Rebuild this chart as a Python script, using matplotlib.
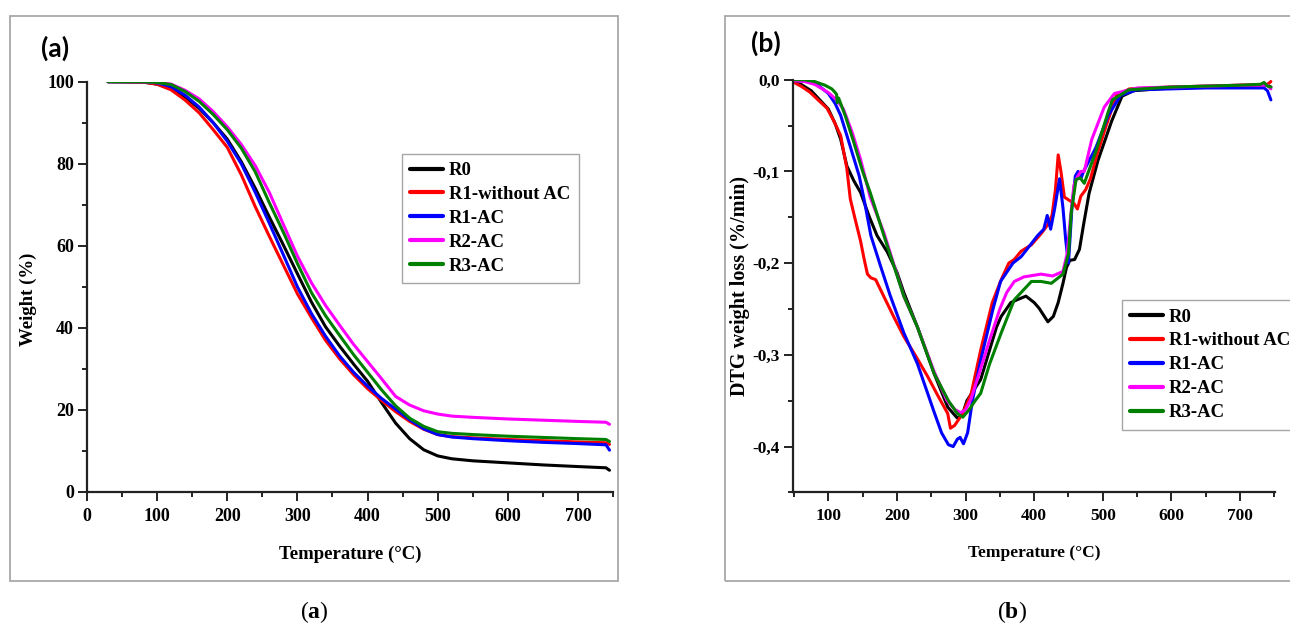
import matplotlib
matplotlib.use("Agg")
import matplotlib.pyplot as plt
from matplotlib.patches import Rectangle
from matplotlib.ticker import MultipleLocator, FuncFormatter

plt.rcParams['font.family'] = 'Liberation Serif'
plt.rcParams['font.weight'] = 'bold'
plt.rcParams['axes.labelweight'] = 'bold'
plt.rcParams['axes.unicode_minus'] = False
plt.rcParams['mathtext.fontset'] = 'custom'
plt.rcParams['mathtext.rm'] = 'Liberation Serif'
plt.rcParams['mathtext.bf'] = 'Liberation Serif:bold'

labels = ['R0', 'R1-without AC', 'R1-AC', 'R2-AC', 'R3-AC']
colors = ['black', '#ff0000', '#0000ff', '#ff00ff', '#008000']

# ---- (a) TGA: weight (%) vs temperature
tga_T = [30, 80, 100, 120, 140, 160, 180, 200, 220, 240, 260, 280, 300, 320, 340, 360,
         380, 400, 420, 440, 460, 480, 500, 520, 550, 600, 650, 700, 740, 745]
tga_R0 = [100, 99.9, 99.4, 98.2, 96.2, 93.5, 90, 86, 80.5, 74, 67, 60.2, 53.2, 46.3, 40.3, 35.6,
          31.2, 27, 21.8, 16.8, 13, 10.3, 8.8, 8.1, 7.6, 7.1, 6.6, 6.2, 5.9, 5.3]
tga_R1 = [100, 99.9, 99.4, 98, 95.5, 92.4, 88.3, 84, 77.3, 69.5, 62.3, 55.3, 48.3, 42.5, 37, 32.5,
          28.6, 25.2, 22.3, 19.6, 17.2, 15.3, 14, 13.5, 13.2, 12.8, 12.5, 12.2, 12, 11.6]
tga_R1AC = [100, 100, 99.7, 98.8, 96.7, 93.8, 90, 85.5, 80, 73, 65.5, 57.8, 50, 43.5, 38, 33.2,
            29.2, 25.8, 22.8, 20.2, 17.6, 15.4, 14, 13.4, 13, 12.5, 12.1, 11.8, 11.5, 10.2]
tga_R2AC = [100, 100, 99.8, 99.4, 97.9, 95.8, 92.7, 89, 84.7, 79.5, 73, 65.2, 57.5, 51, 45.5, 40.7,
            36, 31.8, 27.6, 23.3, 21.2, 19.8, 19, 18.5, 18.2, 17.8, 17.5, 17.2, 17, 16.5]
tga_R3AC = [100, 100, 99.8, 99.3, 97.6, 95.2, 92, 88.3, 83.8, 78, 70.5, 63.3, 55.7, 48.6, 43, 38.2,
            33.5, 29.2, 24.9, 21, 18, 16, 14.7, 14.3, 14, 13.6, 13.3, 13, 12.8, 12.3]

# ---- (b) DTG: weight loss rate (%/min) vs temperature
dtg_R0_T = [50, 60, 75, 90, 100, 110, 118, 127, 137, 147, 160, 171, 186, 200, 210, 230, 254, 274,
            288, 295, 302, 322, 345, 352, 366, 375, 388, 400, 407, 420, 428, 435, 442, 447, 452,
            459, 466, 472, 480, 493, 513, 528, 545, 600, 650, 700, 740, 745]
dtg_R0 = [-0.002, -0.005, -0.012, -0.024, -0.032, -0.048, -0.065, -0.094, -0.11, -0.123, -0.15,
          -0.17, -0.188, -0.21, -0.232, -0.27, -0.32, -0.357, -0.369, -0.366, -0.35, -0.327, -0.27,
          -0.258, -0.243, -0.24, -0.236, -0.243, -0.249, -0.264, -0.258, -0.243, -0.222, -0.205,
          -0.197, -0.196, -0.185, -0.158, -0.124, -0.088, -0.045, -0.018, -0.012, -0.009, -0.008,
          -0.007, -0.006, -0.008]

dtg_R1_T = [50, 60, 73, 85, 98, 108, 118, 127, 132, 140, 147, 152, 157, 162, 169, 180, 195, 210,
            228, 245, 260, 274, 278, 284, 295, 308, 322, 339, 352, 363, 371, 381, 396, 410, 420,
            426, 431, 435, 439, 444, 452, 458, 463, 468, 475, 482, 491, 505, 520, 539, 600, 650,
            700, 740, 745]
dtg_R1 = [-0.003, -0.007, -0.0135, -0.022, -0.031, -0.045, -0.061, -0.097, -0.13, -0.155, -0.176,
          -0.195, -0.212, -0.216, -0.218, -0.235, -0.258, -0.28, -0.302, -0.324, -0.345, -0.364,
          -0.38, -0.377, -0.365, -0.343, -0.295, -0.243, -0.218, -0.2, -0.196, -0.187, -0.18,
          -0.168, -0.158, -0.148, -0.12, -0.082, -0.1, -0.128, -0.132, -0.135, -0.141, -0.127,
          -0.12, -0.108, -0.083, -0.05, -0.017, -0.01, -0.008, -0.007, -0.006, -0.005, -0.002]

dtg_R1AC_T = [50, 70, 85, 100, 110, 118, 130, 145, 152, 162, 176, 190, 210, 230, 254, 265, 275,
              282, 288, 292, 297, 303, 310, 322, 340, 351, 369, 381, 405, 414, 419, 424, 430, 437,
              442, 446, 450, 455, 460, 464, 468, 472, 490, 508, 526, 550, 600, 650, 700, 735, 740,
              745]
dtg_R1AC = [-0.001, -0.002, -0.006, -0.015, -0.026, -0.039, -0.068, -0.105, -0.13, -0.17, -0.203,
            -0.235, -0.276, -0.31, -0.362, -0.385, -0.398, -0.4, -0.392, -0.39, -0.397, -0.385,
            -0.35, -0.306, -0.25, -0.22, -0.2, -0.193, -0.17, -0.163, -0.148, -0.163, -0.14,
            -0.108, -0.14, -0.175, -0.2, -0.14, -0.105, -0.1, -0.108, -0.1, -0.074, -0.039,
            -0.017, -0.011, -0.01, -0.009, -0.009, -0.009, -0.012, -0.022]

dtg_R2AC_T = [50, 65, 80, 100, 112, 122, 135, 147, 161, 181, 210, 230, 254, 273, 285, 293, 300,
              308, 320, 335, 350, 360, 371, 385, 410, 427, 442, 448, 453, 458, 463, 468, 473, 484,
              502, 517, 550, 600, 650, 700, 740, 745]
dtg_R2AC = [-0.001, -0.002, -0.005, -0.014, -0.022, -0.032, -0.058, -0.087, -0.128, -0.167,
            -0.236, -0.27, -0.318, -0.35, -0.36, -0.363, -0.36, -0.348, -0.32, -0.284, -0.25,
            -0.232, -0.22, -0.215, -0.212, -0.214, -0.209, -0.19, -0.15, -0.115, -0.106, -0.1,
            -0.1, -0.065, -0.03, -0.015, -0.009, -0.008, -0.007, -0.006, -0.006, -0.01]

dtg_R3AC_T = [50, 65, 80, 95, 105, 110, 112, 113, 115, 125, 137, 150, 161, 181, 210, 230, 254,
              275, 288, 296, 305, 314, 322, 335, 352, 371, 396, 410, 425, 442, 450, 454, 461, 467,
              473, 490, 508, 514, 538, 600, 650, 700, 730, 735, 740, 745]
dtg_R3AC = [0.0, 0.0, -0.002, -0.006, -0.01, -0.014, -0.016, -0.025, -0.02, -0.04, -0.068, -0.1,
            -0.123, -0.17, -0.236, -0.27, -0.32, -0.35, -0.364, -0.368, -0.36, -0.35, -0.342,
            -0.31, -0.276, -0.24, -0.22, -0.22, -0.222, -0.212, -0.19, -0.145, -0.109, -0.107,
            -0.113, -0.078, -0.035, -0.022, -0.011, -0.008, -0.007, -0.006, -0.005, -0.003,
            -0.007, -0.008]

W, H = 1290, 626
fig = plt.figure(figsize=(W / 100, H / 100), dpi=100)


def fx(px):
    return px / W


def fy(py):
    return 1 - py / H


# grey frames around each panel
fig.add_artist(Rectangle((fx(10), fy(581)), fx(608), 565 / H, transform=fig.transFigure,
                         fill=False, ec='#a8a8a8', lw=1.3))
fig.add_artist(Rectangle((fx(725), fy(581)), fx(600), 565 / H, transform=fig.transFigure,
                         fill=False, ec='#a8a8a8', lw=1.3))

ax1 = fig.add_axes([fx(87), fy(492), fx(613 - 87), (492 - 81.7) / H])
ax2 = fig.add_axes([fx(793), fy(492.4), fx(1275 - 793), (492.4 - 79.7) / H])

tga = [tga_R0, tga_R1, tga_R1AC, tga_R2AC, tga_R3AC]
for y, c, lab in zip(tga, colors, labels):
    ax1.plot(tga_T, y, color=c, lw=2.2, label=lab, solid_capstyle='round')

dtg = [(dtg_R0_T, dtg_R0), (dtg_R1_T, dtg_R1), (dtg_R1AC_T, dtg_R1AC),
       (dtg_R2AC_T, dtg_R2AC), (dtg_R3AC_T, dtg_R3AC)]
for (t, y), c, lab in zip(dtg, colors, labels):
    ax2.plot(t, y, color=c, lw=2.2, label=lab, solid_capstyle='round')

ax1.set_xlim(0, 750)
ax1.set_ylim(0, 100)
ax1.xaxis.set_major_locator(MultipleLocator(100))
ax1.xaxis.set_minor_locator(MultipleLocator(50))
ax1.yaxis.set_major_locator(MultipleLocator(20))
ax1.yaxis.set_minor_locator(MultipleLocator(10))

ax2.set_xlim(48.5, 751)
ax2.set_ylim(-0.45, 0.0)
ax2.xaxis.set_major_locator(MultipleLocator(100))
ax2.xaxis.set_minor_locator(MultipleLocator(50))
ax2.yaxis.set_major_locator(MultipleLocator(0.1))
ax2.yaxis.set_minor_locator(MultipleLocator(0.05))
ax2.yaxis.set_major_formatter(FuncFormatter(lambda v, p: f"{v:.1f}".replace('.', ',')))

for ax, fs in ((ax1, 13), (ax2, 12.5)):
    for s in ('top', 'right'):
        ax.spines[s].set_visible(False)
    for s in ('left', 'bottom'):
        ax.spines[s].set_linewidth(1.6)
        ax.spines[s].set_color('#222222')
    ax.tick_params(which='both', direction='out', width=1.4, color='#222222', labelsize=fs)
    ax.tick_params(which='major', length=6.5)
    ax.tick_params(which='minor', length=3.5)
    ax.tick_params(axis='x', pad=5)
    ax.tick_params(axis='y', pad=3)

ax1.set_xlabel('Temperature (°C)', fontsize=13.5, labelpad=15)
ax1.set_ylabel('Weight (%)', fontsize=13.5, labelpad=8)
ax1.yaxis.set_label_coords(-0.095, 0.47)
ax2.set_xlabel('Temperature (°C)', fontsize=12.5, labelpad=15)
ax2.set_ylabel('DTG weight loss (%/min)', fontsize=14.5, labelpad=2)

leg_kw = dict(fontsize=13.5, frameon=True, fancybox=False, edgecolor='#909090',
              handlelength=1.75, handletextpad=0.3, labelspacing=0.36, borderpad=0.45,
              borderaxespad=0.0)
l1 = ax1.legend(loc='upper left', bbox_to_anchor=(fx(402), fy(153.5)),
                bbox_transform=fig.transFigure, **leg_kw)
l2 = ax2.legend(loc='upper left', bbox_to_anchor=(fx(1122), fy(300)),
                bbox_transform=fig.transFigure, **leg_kw)
for lg in (l1, l2):
    lg.get_frame().set_linewidth(1.0)
    for ln in lg.get_lines():
        ln.set_linewidth(3.0)

fig.text(fx(55), fy(48), '(a)', fontsize=19, fontfamily='Lato', fontweight='bold',
         ha='center', va='center')
fig.text(fx(766), fy(43), '(b)', fontsize=19, fontfamily='Lato', fontweight='bold',
         ha='center', va='center')

fig.text(fx(314), fy(612), r'($\mathbf{a}$)', fontsize=17, fontweight='normal',
         ha='center', va='center')
fig.text(fx(1012), fy(612), r'($\mathbf{b}$)', fontsize=17, fontweight='normal',
         ha='center', va='center')

fig.savefig('out.png', dpi=100)
